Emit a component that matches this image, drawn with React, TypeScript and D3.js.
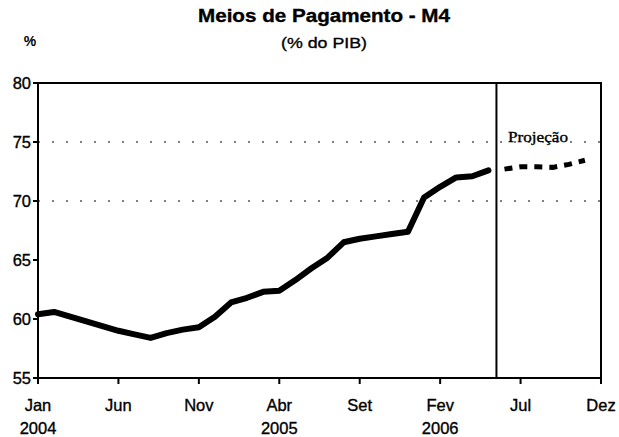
import React from "react";
import * as d3 from "d3";

const title = "Meios de Pagamento - M4";
const subtitle = "(% do PIB)";
const unitLabel = "%";
const projLabel = "Projeção";

// Jan 2004 – May 2006 (monthly)
const histValues = [
  60.4, 60.6, 60.2, 59.8, 59.4, 59.0, 58.7, 58.4, 58.8, 59.1, 59.3, 60.2,
  61.4, 61.8, 62.3, 62.4, 63.3, 64.3, 65.2, 66.5, 66.8, 67.0, 67.2, 67.4,
  70.3, 71.2, 72.0, 72.1, 72.6,
];
// Projection Jun – Nov 2006
const projStart = 29;
const projValues = [72.7, 72.9, 72.9, 72.85, 73.1, 73.45];

const tickIdx = [0, 5, 10, 15, 20, 25, 30, 35];
const tickLabels = ["Jan", "Jun", "Nov", "Abr", "Set", "Fev", "Jul", "Dez"];
const yearIdx = [0, 15, 25];
const yearLabels = ["2004", "2005", "2006"];
const yTicks = [55, 60, 65, 70, 75, 80];
const gridValues = [70, 75];
const splitIdx = 28.5;

export default function App() {
  const W = 619, H = 437;
  const x = d3.scaleLinear().domain([0, 35]).range([38, 601]);
  const y = d3.scaleLinear().domain([55, 80]).range([378, 83]);
  const line = d3
    .line<number>()
    .x((_, i) => x(i))
    .y((d) => y(d))
    .curve(d3.curveLinear);
  const pline = d3
    .line<number>()
    .x((_, i) => x(projStart + i))
    .y((d) => y(d));
  const font = "'Liberation Sans', Arial, sans-serif";
  const txt = { stroke: "#000", strokeWidth: 0.35 };
  return (
    <svg
      width={W}
      height={H}
      style={{ position: "absolute", left: 0, top: 0, background: "#fff" }}
      fontFamily={font}
    >
      <rect x={0} y={0} width={W} height={H} fill="#fff" />
      <text
        x={324}
        y={22}
        textAnchor="middle"
        fontSize={18}
        fontWeight="bold"
        textLength={252}
        lengthAdjust="spacingAndGlyphs"
        {...txt}
      >
        {title}
      </text>
      <text
        x={324}
        y={48}
        textAnchor="middle"
        fontSize={15.5}
        textLength={86}
        lengthAdjust="spacingAndGlyphs"
        {...txt}
      >
        {subtitle}
      </text>
      <text x={30} y={46} textAnchor="middle" fontSize={14} fontWeight="bold">
        {unitLabel}
      </text>

      {gridValues.map((g) => (
        <line
          key={g}
          x1={x(0)}
          x2={x(35)}
          y1={y(g)}
          y2={y(g)}
          stroke="#000"
          strokeWidth={1}
          strokeDasharray="2,12"
        />
      ))}

      {/* frame */}
      <rect
        x={x(0)}
        y={y(80)}
        width={x(35) - x(0)}
        height={y(55) - y(80)}
        fill="none"
        stroke="#000"
        strokeWidth={2}
      />

      {yTicks.map((t) => (
        <g key={t}>
          <line x1={x(0) - 5} x2={x(0)} y1={y(t)} y2={y(t)} stroke="#000" strokeWidth={2} />
          <text x={x(0) - 7} y={y(t) + 6} textAnchor="end" fontSize={16.5} {...txt}>
            {t}
          </text>
        </g>
      ))}

      {tickIdx.map((t, i) => (
        <g key={t}>
          <line x1={x(t)} x2={x(t)} y1={y(55)} y2={y(55) + 6} stroke="#000" strokeWidth={2} />
          <text x={x(t)} y={411} textAnchor="middle" fontSize={16.5} {...txt}>
            {tickLabels[i]}
          </text>
        </g>
      ))}
      {yearIdx.map((t, i) => (
        <text key={t} x={x(t)} y={434} textAnchor="middle" fontSize={16.5} {...txt}>
          {yearLabels[i]}
        </text>
      ))}

      <line
        x1={x(splitIdx)}
        x2={x(splitIdx)}
        y1={y(80)}
        y2={y(55)}
        stroke="#000"
        strokeWidth={2}
      />

      <path
        d={line(histValues) || ""}
        fill="none"
        stroke="#000"
        strokeWidth={6}
        strokeLinejoin="round"
        strokeLinecap="round"
      />
      <path
        d={pline(projValues) || ""}
        fill="none"
        stroke="#000"
        strokeWidth={5}
        strokeDasharray="8,7"
      />

      <text
        x={538}
        y={142}
        textAnchor="middle"
        fontSize={15}
        textLength={60}
        lengthAdjust="spacingAndGlyphs"
        fontFamily="'Liberation Serif', 'Times New Roman', serif"
        {...txt}
      >
        {projLabel}
      </text>
    </svg>
  );
}
